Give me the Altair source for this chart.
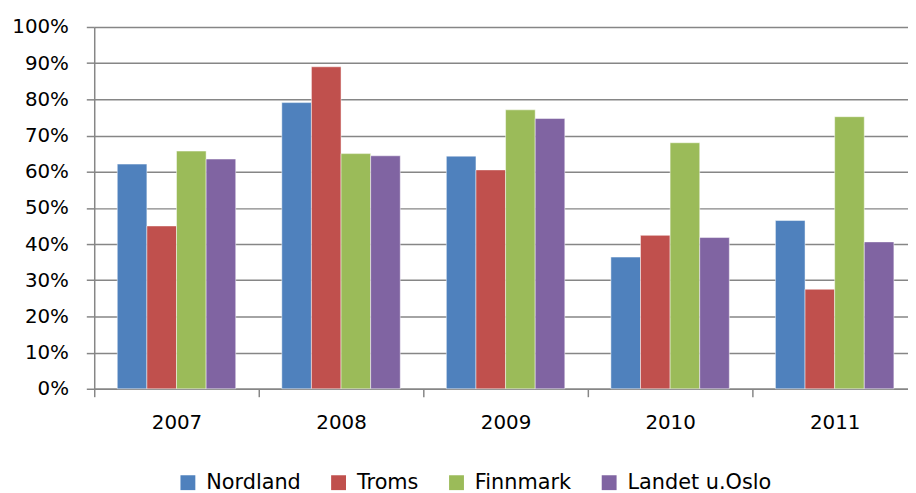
import altair as alt
import pandas as pd

years = ["2007", "2008", "2009", "2010", "2011"]
series = ["Nordland", "Troms", "Finnmark", "Landet u.Oslo"]
colors = ["#4F81BD", "#C0504D", "#9BBB59", "#8064A2"]

nordland = [0.621, 0.791, 0.643, 0.364, 0.465]
troms = [0.450, 0.890, 0.605, 0.424, 0.275]
finnmark = [0.657, 0.650, 0.771, 0.680, 0.752]
landet = [0.635, 0.644, 0.747, 0.418, 0.406]

values = {"Nordland": nordland, "Troms": troms, "Finnmark": finnmark, "Landet u.Oslo": landet}
rows = []
for s in series:
    for y, v in zip(years, values[s]):
        rows.append({"year": y, "series": s, "value": v})
df = pd.DataFrame(rows)

FONT = "DejaVu Sans"
FS = 20
GRAY = "#868686"

chart = alt.Chart(df).mark_bar(stroke="#ffffff", strokeWidth=0.8, strokeOpacity=0.6).encode(
    x=alt.X("year:N", sort=years,
            scale=alt.Scale(range=[0, 830], paddingInner=0, paddingOuter=0),
            axis=alt.Axis(title=None, labelAngle=0, tickBand="extent", tickSize=8,
                          tickColor=GRAY, domainColor=GRAY, domainWidth=1.5,
                          tickWidth=1.5, labelFontSize=FS, labelFont=FONT, labelColor="#000000",
                          labelPadding=16, grid=False)),
    xOffset=alt.XOffset("series:N", sort=series,
                        scale=alt.Scale(paddingInner=0, paddingOuter=0.778)),
    y=alt.Y("value:Q", scale=alt.Scale(domain=[0, 1], nice=False),
            axis=alt.Axis(title=None, format=".0%", values=[i / 10 for i in range(11)],
                          grid=True, gridColor=GRAY, gridWidth=1.5,
                          tickSize=8, tickColor=GRAY, tickWidth=1.5,
                          domainColor=GRAY, domainWidth=1.5,
                          labelFontSize=FS, labelFont=FONT, labelColor="#000000",
                          labelPadding=18)),
    color=alt.Color("series:N", sort=series,
                    scale=alt.Scale(domain=series, range=colors),
                    legend=alt.Legend(title=None, orient="none", legendX=84, legendY=449,
                                      direction="horizontal", symbolType="square",
                                      symbolSize=225, symbolStrokeWidth=0, symbolOpacity=1,
                                      labelFontSize=21, labelFont=FONT, labelColor="#000000",
                                      labelOffset=8, columnPadding=27, padding=0)),
).properties(
    width=821, height=365,
    autosize=alt.AutoSizeParams(type="none"),
    padding={"left": 87, "top": 17, "right": 0, "bottom": 103},
).configure_view(stroke=None)

chart.save("out.html", embed_options={"renderer": "svg", "actions": False})
